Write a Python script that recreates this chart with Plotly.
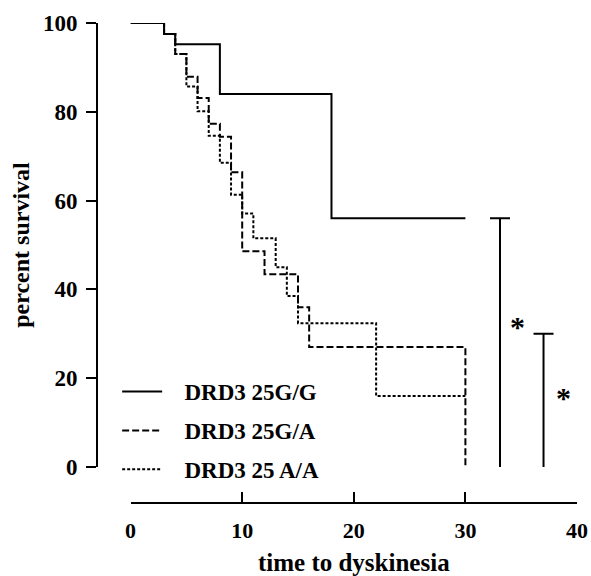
import plotly.graph_objects as go

# Kaplan-Meier step data (time, percent survival)
gg_time = [0, 3, 4, 8, 18, 30]
gg_surv = [100, 97.5, 95.2, 84.0, 56.0, 56.0]

ga_time = [0, 3, 4, 5, 6, 7, 8, 9, 10, 12, 15, 16, 30, 30]
ga_surv = [100, 97.5, 93.0, 87.9, 83.1, 77.3, 74.4, 66.4, 48.6, 43.4, 36.0, 27.0, 27.0, 0]

aa_time = [0, 3, 4, 5, 6, 7, 8, 9, 10, 11, 13, 14, 15, 22, 30]
aa_surv = [100, 97.5, 93.0, 85.7, 80.1, 74.6, 68.5, 61.3, 57.1, 51.5, 45.0, 38.5, 32.4, 16.0, 16.0]

series_names = ["DRD3 25G/G", "DRD3 25G/A", "DRD3 25 A/A"]

# significance brackets
bracket_x = [33.1, 37.0]
bracket_low = [-0.5, -0.5]
bracket_high = [56.0, 30.0]
star_x = [34.7, 38.8]
star_y = [32.0, 16.2]

x_ticks = [0, 10, 20, 30, 40]
y_ticks = [0, 20, 40, 60, 80, 100]

FONT = "Liberation Serif"
PAD = "\u00a0\u00a0\u00a0"

fig = go.Figure()
fig.add_trace(go.Scatter(x=gg_time, y=gg_surv, mode="lines", line_shape="hv",
                         name=PAD + series_names[0], legendgroup="a",
                         line=dict(color="black", width=2)))
fig.add_trace(go.Scatter(x=ga_time, y=ga_surv, mode="lines", line_shape="hv",
                         name=PAD + series_names[1], legendgroup="b",
                         line=dict(color="black", width=2, dash="7px,3px")))
fig.add_trace(go.Scatter(x=aa_time, y=aa_surv, mode="lines", line_shape="hv",
                         name=PAD + series_names[2], legendgroup="c",
                         line=dict(color="black", width=2, dash="3px,2px")))

for bx, lo, hi in zip(bracket_x, bracket_low, bracket_high):
    fig.add_trace(go.Scatter(x=[bx], y=[hi], mode="markers", showlegend=False,
                             marker=dict(size=0.1, color="rgba(0,0,0,0)"),
                             error_y=dict(type="data", symmetric=False, array=[0],
                                          arrayminus=[hi - lo], color="black",
                                          thickness=2, width=10),
                             hoverinfo="skip"))

for sx, sy in zip(star_x, star_y):
    fig.add_annotation(x=sx, y=sy, text="*", showarrow=False,
                       font=dict(family=FONT, size=30, color="black", weight="bold"),
                       yanchor="middle", xanchor="center", yshift=-2)

fig.update_layout(
    width=591, height=576,
    margin=dict(l=97, r=14, t=23, b=73, autoexpand=False),
    paper_bgcolor="white", plot_bgcolor="white",
    font=dict(family=FONT, color="black", weight="bold"),
    legend=dict(x=0.042, y=0.277, xanchor="left", yanchor="top",
                font=dict(family=FONT, size=23, weight="bold"),
                tracegroupgap=6, bgcolor="rgba(0,0,0,0)", itemwidth=40),
    showlegend=True,
)

fig.update_xaxes(range=[0, 40], domain=[0.070, 1.0], anchor="free", position=0,
                 automargin=False,
                 showline=True, linecolor="black", linewidth=2,
                 ticks="inside", ticklen=10, tickwidth=2, tickcolor="black",
                 tickvals=x_ticks, showgrid=False, zeroline=False,
                 tickfont=dict(family=FONT, size=22, weight="bold"),
                 ticklabelstandoff=8,
                 title=dict(text="time to dyskinesia", standoff=26,
                            font=dict(family=FONT, size=25, weight="bold")))
fig.update_yaxes(range=[0, 100], domain=[0.075, 1.0], anchor="free", position=0,
                 automargin=False,
                 showline=True, linecolor="black", linewidth=2,
                 ticks="outside", ticklen=10, tickwidth=2, tickcolor="black",
                 tickvals=y_ticks, showgrid=False, zeroline=False,
                 tickfont=dict(family=FONT, size=23, weight="bold"),
                 ticklabelstandoff=4,
                 title=dict(text="percent survival", standoff=6,
                            font=dict(family=FONT, size=24, weight="bold")))

fig.write_html("out.html", config={"displayModeBar": False},
               post_script="document.body.style.margin='0';document.body.style.overflow='hidden';")
